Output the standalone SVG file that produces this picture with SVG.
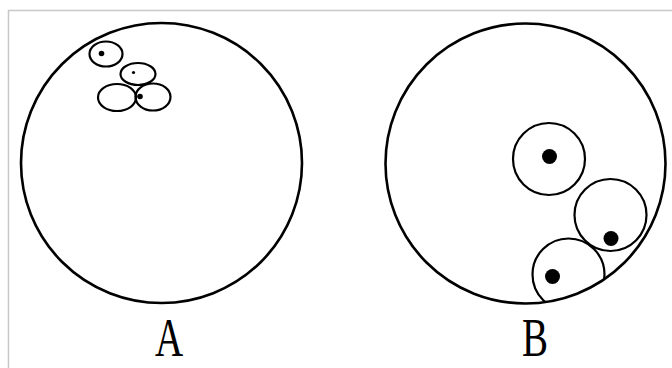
<svg xmlns="http://www.w3.org/2000/svg" width="672" height="368" viewBox="0 0 672 368">
<style>
.o{fill:none;stroke:#000;stroke-width:2.6}
.s{fill:none;stroke:#000;stroke-width:2.2}
.d{fill:#000}
.lbl{font-family:"Liberation Serif","Times New Roman",serif;font-size:50px;fill:#000;text-anchor:middle}
</style>
<defs>
<clipPath id="clipB"><circle cx="525.5" cy="163.5" r="140"/></clipPath>
</defs>
<rect x="0" y="0" width="672" height="368" fill="#fff"/>
<rect x="8.5" y="10.5" width="700" height="400" fill="none" stroke="#c8c8c8" stroke-width="1.5"/>
<g id="panelA">
<ellipse class="o" cx="161.5" cy="163" rx="140.5" ry="140"/>
<g id="a1"><ellipse class="s" cx="106" cy="54" rx="16.5" ry="12.5"/><circle class="d" cx="101.5" cy="53.5" r="2.8"/></g>
<g id="a2"><ellipse class="s" cx="138" cy="74" rx="17.5" ry="11"/><circle class="d" cx="133.5" cy="72.5" r="1.6"/></g>
<g id="a3"><ellipse class="s" cx="117" cy="97.5" rx="19" ry="13.5"/></g>
<g id="a4"><ellipse class="s" cx="153" cy="97" rx="17.5" ry="13.5"/><circle class="d" cx="140" cy="96.5" r="2.8"/></g>
<text class="lbl" transform="translate(169,356) scale(0.78,1.1)">A</text>
</g>
<g id="panelB">
<circle class="o" cx="525.5" cy="163.5" r="140"/>
<g id="b1"><circle class="s" cx="549" cy="159" r="36"/><circle class="d" cx="549.5" cy="156.5" r="7.5"/></g>
<g id="b2"><circle class="s" cx="610.5" cy="215" r="36"/><circle class="d" cx="611" cy="238.5" r="7.5"/></g>
<g id="b3"><circle class="s" cx="568.5" cy="274.5" r="36" clip-path="url(#clipB)"/><circle class="d" cx="552.5" cy="276.5" r="7.5"/></g>
<text class="lbl" transform="translate(535,356) scale(0.78,1.1)">B</text>
</g>
</svg>
